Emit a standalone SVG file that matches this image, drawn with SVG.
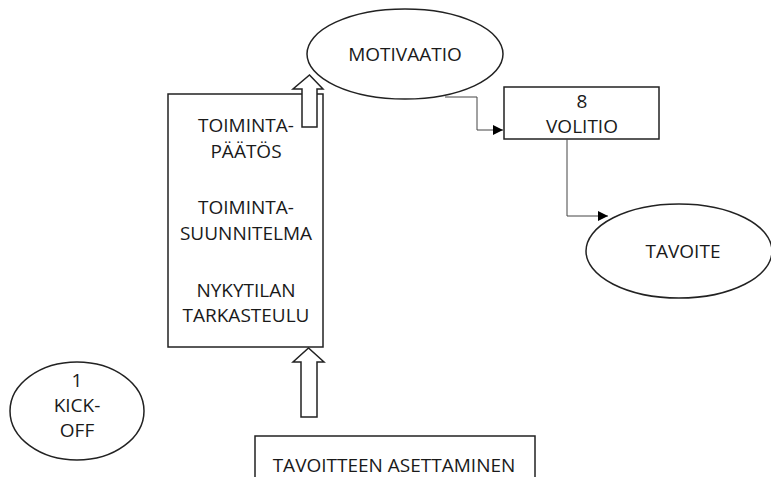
<svg xmlns="http://www.w3.org/2000/svg" width="771" height="477" viewBox="0 0 771 477">
  <defs>
    <marker id="tri" viewBox="0 0 10 10" refX="10" refY="5" markerWidth="10" markerHeight="10" markerUnits="userSpaceOnUse" orient="auto">
      <path d="M0,0 L10,5 L0,10 Z" fill="#000"/>
    </marker>
    <style>
      .shape { fill: #fff; stroke: #222; stroke-width: 1.5; }
      .conn { fill: none; stroke: #444; stroke-width: 1; }
      .block { fill: #fff; stroke: #222; stroke-width: 1.5; stroke-linejoin: miter; }
      text { font-family: "Open Sans", "Liberation Sans", sans-serif; font-size: 19px; fill: #1a1a1a; text-anchor: middle; }
    </style>
  </defs>
  <rect width="771" height="477" fill="#fff"/>

  <g id="toiminta">
    <rect class="shape" x="168" y="94" width="155" height="253"/>
    <text x="246" y="132">TOIMINTA-</text>
    <text x="246" y="158">PÄÄTÖS</text>
    <text x="246" y="214">TOIMINTA-</text>
    <text x="246" y="240">SUUNNITELMA</text>
    <text x="246" y="297">NYKYTILAN</text>
    <text x="246" y="322">TARKASTEULU</text>
  </g>

  <g id="motivaatio">
    <ellipse class="shape" cx="405" cy="54" rx="98" ry="45"/>
    <text x="405" y="61">MOTIVAATIO</text>
  </g>

  <g id="volitio">
    <rect class="shape" x="504" y="87" width="155" height="52"/>
    <text x="582" y="108">8</text>
    <text x="582" y="133">VOLITIO</text>
  </g>

  <g id="tavoite">
    <ellipse class="shape" cx="679" cy="251" rx="93" ry="47"/>
    <text x="683" y="258">TAVOITE</text>
  </g>

  <g id="kickoff">
    <ellipse class="shape" cx="77" cy="411" rx="67" ry="49"/>
    <text x="77" y="387">1</text>
    <text x="77" y="412">KICK-</text>
    <text x="77" y="437">OFF</text>
  </g>

  <g id="asettaminen">
    <rect class="shape" x="255" y="436" width="280" height="50"/>
    <text x="394" y="472">TAVOITTEEN ASETTAMINEN</text>
  </g>

  <g id="connectors">
    <path class="conn" d="M445,97 H477 V130 H503" marker-end="url(#tri)"/>
    <path class="conn" d="M567,139 V216 H608" marker-end="url(#tri)"/>
    <path class="block" d="M302,127 V89 H293 L309.5,75 L323,89 H317 V127 Z"/>
    <path class="block" d="M301,417 V362 H293 L308.5,348 L324,362 H317 V417 Z"/>
  </g>
</svg>
